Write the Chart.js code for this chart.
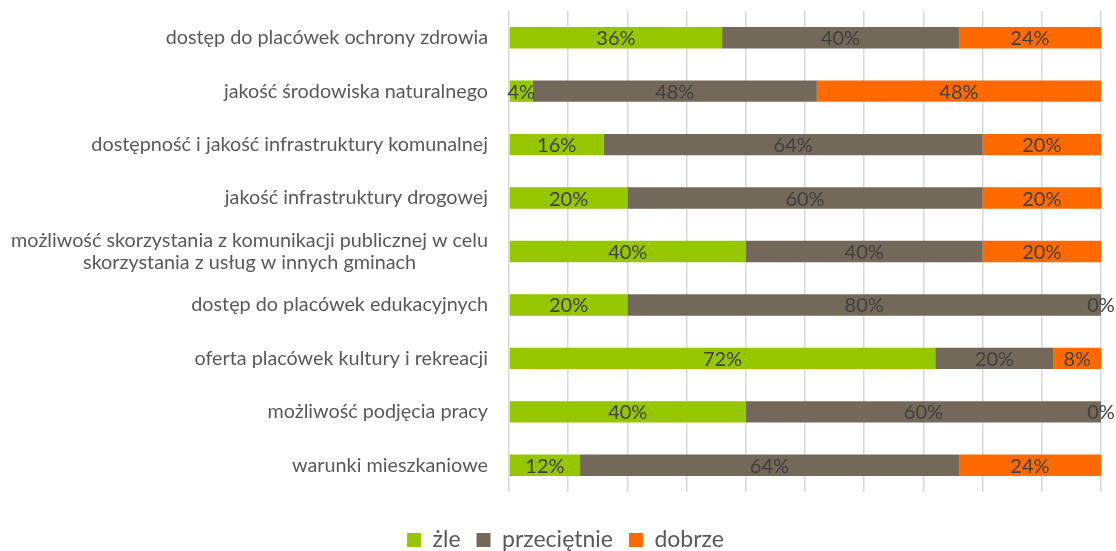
<!DOCTYPE html>
<html>
<head>
<meta charset="utf-8">
<script src="https://cdn.jsdelivr.net/npm/chart.js@4.4.1/dist/chart.umd.min.js"></script>
<style>
  html, body { margin: 0; padding: 0; background: #ffffff; }
  #wrap { width: 1116px; height: 551px; }
</style>
</head>
<body>
<div id="wrap"><canvas id="c" width="1116" height="551"></canvas></div>
<script>
const categories = [
  ["dostęp do placówek ochrony zdrowia"],
  ["jakość środowiska naturalnego"],
  ["dostępność i jakość infrastruktury komunalnej"],
  ["jakość infrastruktury drogowej"],
  ["możliwość skorzystania z komunikacji publicznej w celu", "skorzystania z usług w innych gminach"],
  ["dostęp do placówek edukacyjnych"],
  ["oferta placówek kultury i rekreacji"],
  ["możliwość podjęcia pracy"],
  ["warunki mieszkaniowe"]
];
const seriesNames = ["żle", "przeciętnie", "dobrze"];
const zle =         [36,  4, 16, 20, 40, 20, 72, 40, 12];
const przecietnie = [40, 48, 64, 60, 40, 80, 20, 60, 64];
const dobrze =      [24, 48, 20, 20, 20,  0,  8,  0, 24];
const colors = ["#95C600", "#73695A", "#FF6A00"];
const xTicks = [0, 10, 20, 30, 40, 50, 60, 70, 80, 90, 100];

const FONT = "Lato, 'Open Sans', sans-serif";

const catLabelPlugin = {
  id: 'catLabels',
  afterDraw(chart) {
    const ctx = chart.ctx;
    const ys = chart.scales.y;
    ctx.save();
    ctx.font = "19.8px " + FONT;
    ctx.fillStyle = "#595959";
    ctx.textBaseline = "middle";
    ctx.textAlign = "center";
    const rightX = 488;
    const lh = 22;
    categories.forEach((lines, i) => {
      const y = ys.getPixelForValue(i);
      let maxW = 0;
      lines.forEach(l => { maxW = Math.max(maxW, ctx.measureText(l).width); });
      const cx = rightX - maxW / 2;
      const y0 = y - (lines.length - 1) * lh / 2;
      lines.forEach((l, k) => ctx.fillText(l, cx, y0 + k * lh));
    });
    ctx.restore();
  }
};

const dataLabelPlugin = {
  id: 'dataLabels',
  afterDatasetsDraw(chart) {
    const ctx = chart.ctx;
    ctx.save();
    ctx.font = "20px " + FONT;
    ctx.fillStyle = "#404040";
    ctx.textAlign = "center";
    ctx.textBaseline = "middle";
    chart.data.datasets.forEach((ds, di) => {
      const meta = chart.getDatasetMeta(di);
      meta.data.forEach((bar, i) => {
        const v = ds.data[i];
        const cx = (bar.x + bar.base) / 2;
        ctx.fillText(v + "%", cx, bar.y + 1);
      });
    });
    ctx.restore();
  }
};

new Chart(document.getElementById('c'), {
  type: 'bar',
  data: {
    labels: categories,
    datasets: [
      { label: seriesNames[0], data: zle, backgroundColor: colors[0] },
      { label: seriesNames[1], data: przecietnie, backgroundColor: colors[1] },
      { label: seriesNames[2], data: dobrze, backgroundColor: colors[2] }
    ]
  },
  options: {
    indexAxis: 'y',
    responsive: false,
    animation: false,
    devicePixelRatio: 1,
    datasets: { bar: { categoryPercentage: 1, barPercentage: 0.4, borderWidth: 0 } },
    layout: { padding: { top: 11, right: 15, left: 30, bottom: -10.5 } },
    scales: {
      x: {
        stacked: true, min: 0, max: 100,
        afterBuildTicks(scale) { scale.ticks = xTicks.map(v => ({ value: v })); },
        ticks: { display: false },
        grid: { color: '#D9D9D9', lineWidth: 1.5, drawTicks: false },
        border: { display: false },
        afterFit(scale) { scale.height = 20.5; }
      },
      y: {
        stacked: true,
        ticks: { display: false },
        grid: { display: false, drawTicks: false },
        border: { display: false },
        afterFit(scale) { scale.width = 479; }
      }
    },
    plugins: {
      legend: {
        position: 'bottom',
        labels: {
          font: { family: FONT, size: 23 },
          color: '#595959',
          boxWidth: 14, boxHeight: 14,
          padding: 16
        }
      },
      tooltip: { enabled: false }
    }
  },
  plugins: [catLabelPlugin, dataLabelPlugin]
});
</script>
</body>
</html>
